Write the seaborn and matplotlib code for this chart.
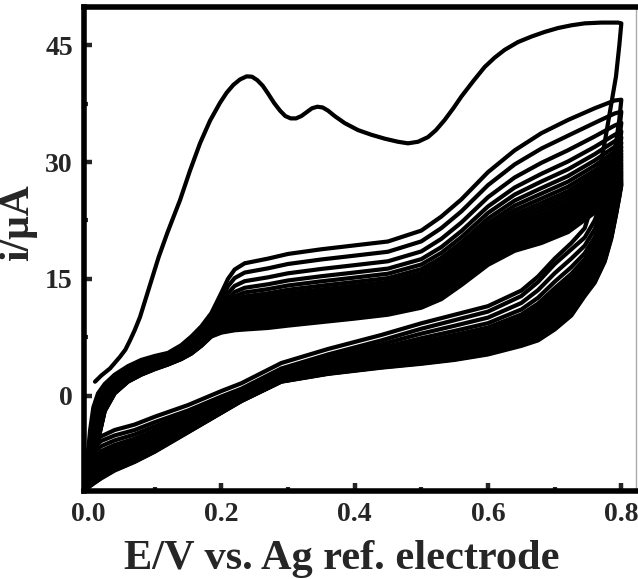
import numpy as np
import pandas as pd
import matplotlib
matplotlib.use("Agg")
import matplotlib.pyplot as plt
import seaborn as sns
from matplotlib.ticker import MultipleLocator

# ---------------- data ----------------
# first cycle, forward scan
c1_fwd_E = [0.0105, 0.020, 0.033, 0.048, 0.056, 0.063, 0.070, 0.078, 0.086, 0.094,
            0.106, 0.119, 0.128, 0.138, 0.153, 0.168, 0.183, 0.198, 0.208, 0.218,
            0.228, 0.238, 0.246, 0.254, 0.262, 0.270, 0.279, 0.288, 0.296, 0.304,
            0.312, 0.320, 0.328, 0.336, 0.344, 0.352, 0.360, 0.370, 0.385, 0.405,
            0.425, 0.445, 0.465, 0.480, 0.495, 0.510, 0.522, 0.535, 0.548, 0.560,
            0.578, 0.595, 0.610, 0.625, 0.645, 0.665, 0.685, 0.705, 0.725, 0.745,
            0.770, 0.795, 0.800]
c1_fwd_I = [1.8, 2.6, 3.5, 5.0, 5.9, 7.1, 8.4, 10.1, 12.3, 14.5,
            17.8, 20.9, 22.9, 25.1, 28.9, 32.4, 35.3, 37.6, 38.9, 39.9,
            40.6, 41.0, 40.95, 40.5, 39.8, 38.8, 37.6, 36.6, 35.9, 35.6,
            35.6, 35.9, 36.4, 36.9, 37.1, 37.0, 36.6, 35.9, 35.0, 34.1,
            33.5, 33.0, 32.6, 32.4, 32.6, 33.2, 34.1, 35.4, 36.9, 38.4,
            40.4, 42.2, 43.4, 44.4, 45.4, 46.1, 46.7, 47.2, 47.55, 47.8,
            47.9, 47.9, 47.8]

# reverse-scan potential grid and the first-cycle reverse current
rev_E = [0.800, 0.797, 0.792, 0.785, 0.775, 0.760, 0.745, 0.725, 0.700, 0.675,
         0.650, 0.600, 0.550, 0.500, 0.440, 0.360, 0.290, 0.230, 0.200, 0.150,
         0.100, 0.070, 0.040, 0.020, 0.008, 0.000]
rev_first = [47.8, 45.0, 41.0, 37.5, 32.5, 25.5, 21.5, 19.6, 17.6, 15.3,
             13.5, 11.5, 10.4, 9.3, 7.8, 6.0, 4.2, 1.6, 0.6, -1.2,
             -2.7, -3.7, -4.4, -5.2, -5.9, -7.0]
# later cycles, reverse scan: highest (cycle 2) and lowest (last cycle)
rev_second = [38.0, 35.5, 32.5, 29.5, 26.0, 22.5, 20.3, 18.8, 16.9, 14.6,
              12.8, 10.8, 9.7, 8.6, 7.1, 5.3, 3.5, 0.9, -0.1, -1.9,
              -3.4, -4.4, -5.1, -5.8, -6.6, -7.6]
rev_last = [27.0, 25.5, 23.2, 20.2, 17.2, 14.5, 12.8, 10.3, 8.5, 7.1,
            6.4, 5.3, 4.6, 4.1, 3.6, 2.8, 1.8, -0.7, -2.2, -4.7,
            -7.2, -8.5, -9.6, -10.6, -11.3, -11.8]

# forward-scan potential grid for later cycles
fwd_E = [0.000, 0.003, 0.008, 0.015, 0.025, 0.040, 0.060, 0.080, 0.100, 0.120,
         0.140, 0.155, 0.170, 0.185, 0.200, 0.210, 0.220, 0.235, 0.270, 0.300,
         0.350, 0.400, 0.450, 0.500, 0.530, 0.560, 0.600, 0.640, 0.680, 0.720,
         0.760, 0.790, 0.800]
fwd_top = [-7.6, -4.5, -1.5, 0.3, 1.5, 2.7, 3.8, 4.6, 5.1, 5.5,
           6.5, 7.6, 8.9, 10.6, 13.2, 15.0, 16.2, 17.0, 17.6, 18.2,
           18.8, 19.3, 19.8, 21.2, 23.0, 25.2, 28.7, 31.5, 33.7, 35.4,
           36.9, 37.9, 38.0]
fwd_last = [-11.8, -10.0, -8.0, -5.8, -2.0, 0.3, 1.8, 2.7, 3.4, 4.0,
            4.7, 5.4, 6.4, 7.6, 8.1, 8.25, 8.4, 8.5, 8.7, 9.0,
            9.45, 9.9, 10.4, 11.3, 12.4, 14.2, 16.8, 18.6, 19.6, 21.0,
            23.5, 26.0, 27.0]

# relative position of each later cycle between the highest and lowest traces
cycle_pos = [0.0, 0.14, 0.27, 0.37, 0.44, 0.50, 0.55, 0.595, 0.635, 0.67,
             0.705, 0.74, 0.77, 0.80, 0.83, 0.855, 0.88, 0.905, 0.93, 0.95,
             0.97, 0.985, 1.0]

x_ticks = [0.0, 0.2, 0.4, 0.6, 0.8]
x_tick_labels = ["0.0", "0.2", "0.4", "0.6", "0.8"]
y_ticks = [0, 15, 30, 45]
y_tick_labels = ["0", "15", "30", "45"]

# ---------------- build long-form table ----------------
frames = []
E1 = list(c1_fwd_E) + list(rev_E)
I1 = list(c1_fwd_I) + list(rev_first)
frames.append(pd.DataFrame({"E": E1, "I": I1, "cycle": 1, "step": np.arange(len(E1))}))
ft, fl = np.array(fwd_top), np.array(fwd_last)
rt, rl = np.array(rev_second), np.array(rev_last)
for k, p in enumerate(cycle_pos):
    fwd = ft + p * (fl - ft)
    rev = rt + p * (rl - rt)
    E = list(fwd_E) + list(rev_E)
    I = list(fwd) + list(rev)
    frames.append(pd.DataFrame({"E": E, "I": I, "cycle": k + 2, "step": np.arange(len(E))}))
df = pd.concat(frames, ignore_index=True)

# ---------------- plot ----------------
sns.set_style("ticks")
plt.rcParams["font.family"] = ["Liberation Serif", "DejaVu Serif"]
plt.rcParams["font.weight"] = "bold"

fig = plt.figure(figsize=(6.38, 5.79), dpi=100)
ax = fig.add_axes([84 / 638, 88 / 579, 552 / 638, 484 / 579])

sns.lineplot(data=df, x="E", y="I", units="cycle", estimator=None, sort=False,
             color="black", linewidth=3.0, ax=ax, legend=False)
for ln in ax.get_lines():
    ln.set_solid_joinstyle("round")
    ln.set_solid_capstyle("round")

ax.set_xlim(-0.006, 0.822)
ax.set_ylim(-12.23, 49.9)
ax.set_xticks(x_ticks)
ax.set_xticklabels(x_tick_labels)
ax.set_yticks(y_ticks)
ax.set_yticklabels(y_tick_labels)
ax.xaxis.set_minor_locator(MultipleLocator(0.1))
ax.yaxis.set_minor_locator(MultipleLocator(7.5))
ax.tick_params(which="major", direction="in", length=6, width=3.2, labelsize=20, pad=8)
ax.tick_params(which="minor", direction="in", length=3, width=3.0)
for lab in ax.get_xticklabels() + ax.get_yticklabels():
    lab.set_fontweight("bold")

for s in ["left", "top", "bottom"]:
    ax.spines[s].set_linewidth(4)
    ax.spines[s].set_color("black")
ax.spines["right"].set_linewidth(1)
ax.spines["right"].set_color("#aaaaaa")

ax.set_xlabel("E/V vs. Ag ref. electrode", fontsize=30.5, fontweight="bold")
ax.set_ylabel("i/\u03bcA", fontsize=30, fontweight="bold")
ax.xaxis.label.set_va("baseline")
ax.xaxis.set_label_coords(0.4665, -0.161)
ax.yaxis.set_label_coords(-0.085, 0.555)

fig.savefig("out.png", dpi=100)
